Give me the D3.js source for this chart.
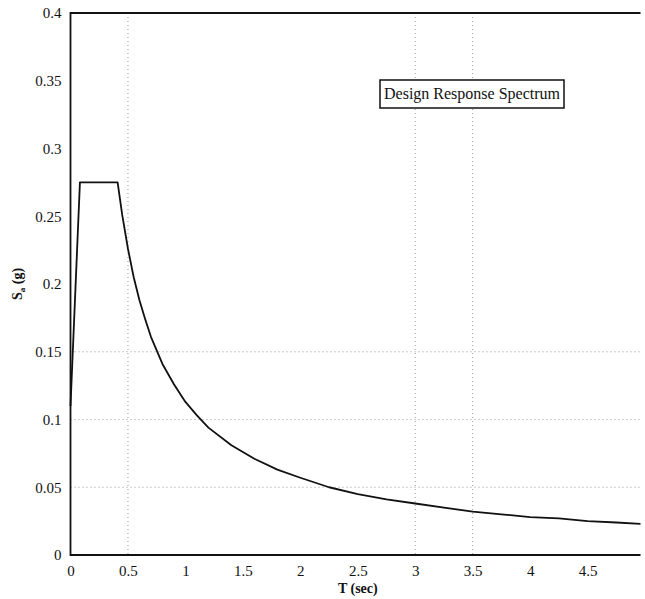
<!DOCTYPE html>
<html>
<head>
<meta charset="utf-8">
<script src="https://cdn.jsdelivr.net/npm/d3@7"></script>
<style>
  html, body { margin: 0; padding: 0; background: #fff; }
  svg { display: block; }
  text { font-family: 'Liberation Serif', 'Times New Roman', serif; fill: #111; }
</style>
</head>
<body>
<svg id="chart" width="645" height="599"></svg>
<script>
// Design response spectrum: period T (sec) and spectral acceleration Sa (g)
const periods = [0, 0.082, 0.41, 0.45, 0.5, 0.55, 0.6, 0.65, 0.7, 0.8, 0.9, 1.0, 1.1, 1.2, 1.4, 1.6, 1.8, 2.0,
  2.25, 2.5, 2.75, 3.0, 3.25, 3.5, 3.75, 4.0, 4.25, 4.5, 4.75, 4.96];
const accel = [0.110, 0.275, 0.275, 0.251, 0.226, 0.205, 0.188, 0.174, 0.161, 0.141, 0.126, 0.113, 0.103, 0.094,
  0.081, 0.071, 0.063, 0.057, 0.050, 0.045, 0.041, 0.038, 0.035, 0.032, 0.030, 0.028, 0.027, 0.025, 0.024, 0.023];

const xTicks = [0, 0.5, 1, 1.5, 2, 2.5, 3, 3.5, 4, 4.5];
const yTicks = [0, 0.05, 0.1, 0.15, 0.2, 0.25, 0.3, 0.35, 0.4];
const xGrid = [0.5, 3, 3.5];
const yGrid = [0.05, 0.1, 0.15];
const legendLabel = "Design Response Spectrum";

const serif = "'Liberation Serif', 'Times New Roman', serif";
const svg = d3.select("#chart");
const plotLeft = 70.5, plotRight = 640.5, plotTop = 13, plotBottom = 555;

const x = d3.scaleLinear().domain([0, 4.96]).range([plotLeft, plotRight]);
const y = d3.scaleLinear().domain([0, 0.4]).range([plotBottom, plotTop]);

// dotted grid
svg.append("g").selectAll("line").data(xGrid).join("line")
  .attr("x1", d => x(d)).attr("x2", d => x(d))
  .attr("y1", plotTop).attr("y2", plotBottom)
  .attr("stroke", "#9a9a9a").attr("stroke-width", 1)
  .attr("stroke-dasharray", "1,3");
svg.append("g").selectAll("line").data(yGrid).join("line")
  .attr("x1", plotLeft).attr("x2", plotRight)
  .attr("y1", d => y(d)).attr("y2", d => y(d))
  .attr("stroke", "#9a9a9a").attr("stroke-width", 1)
  .attr("stroke-dasharray", "1,3");

// axes (no tick marks, labels only)
const xAxis = d3.axisBottom(x).tickValues(xTicks).tickSize(0).tickPadding(10)
  .tickFormat(d3.format("~g"));
const gx = svg.append("g").attr("transform", `translate(0,${plotBottom})`).call(xAxis)
  .attr("font-family", serif).attr("font-size", 15);
gx.select(".domain").remove();

const yAxis = d3.axisLeft(y).tickValues(yTicks).tickSize(0).tickPadding(9)
  .tickFormat(d3.format("~g"));
const gy = svg.append("g").attr("transform", `translate(${plotLeft},0)`).call(yAxis)
  .attr("font-family", serif).attr("font-size", 15);
gy.select(".domain").remove();

// frame: top, left, bottom
svg.append("path")
  .attr("d", `M${plotRight},${plotTop}H${plotLeft}V${plotBottom}H${plotRight}`)
  .attr("fill", "none").attr("stroke", "#111").attr("stroke-width", 1.8);

// spectrum curve
const line = d3.line().x((d, i) => x(periods[i])).y(d => y(d));
svg.append("path").datum(accel)
  .attr("d", line)
  .attr("fill", "none").attr("stroke", "#111").attr("stroke-width", 1.8)
  .attr("stroke-linejoin", "round");

// legend box
const lg = svg.append("g").attr("transform", "translate(380,80)");
lg.append("rect").attr("width", 184).attr("height", 28)
  .attr("fill", "#fff").attr("stroke", "#111").attr("stroke-width", 1.5);
lg.append("text").attr("x", 92).attr("y", 19).attr("text-anchor", "middle")
  .style("font-size", "16px").text(legendLabel);

// axis titles
svg.append("text").attr("x", x(2.5)).attr("y", 593).attr("text-anchor", "middle")
  .style("font-size", "14px").style("font-weight", "bold").text("T (sec)");

const yt = svg.append("text").attr("transform", `translate(22,${y(0.2)}) rotate(-90)`)
  .attr("text-anchor", "middle").style("font-size", "14px").style("font-weight", "bold");
yt.append("tspan").text("S");
yt.append("tspan").attr("dy", 3).style("font-size", "9px").text("a");
yt.append("tspan").attr("dy", -3).text(" (g)");
</script>
</body>
</html>
